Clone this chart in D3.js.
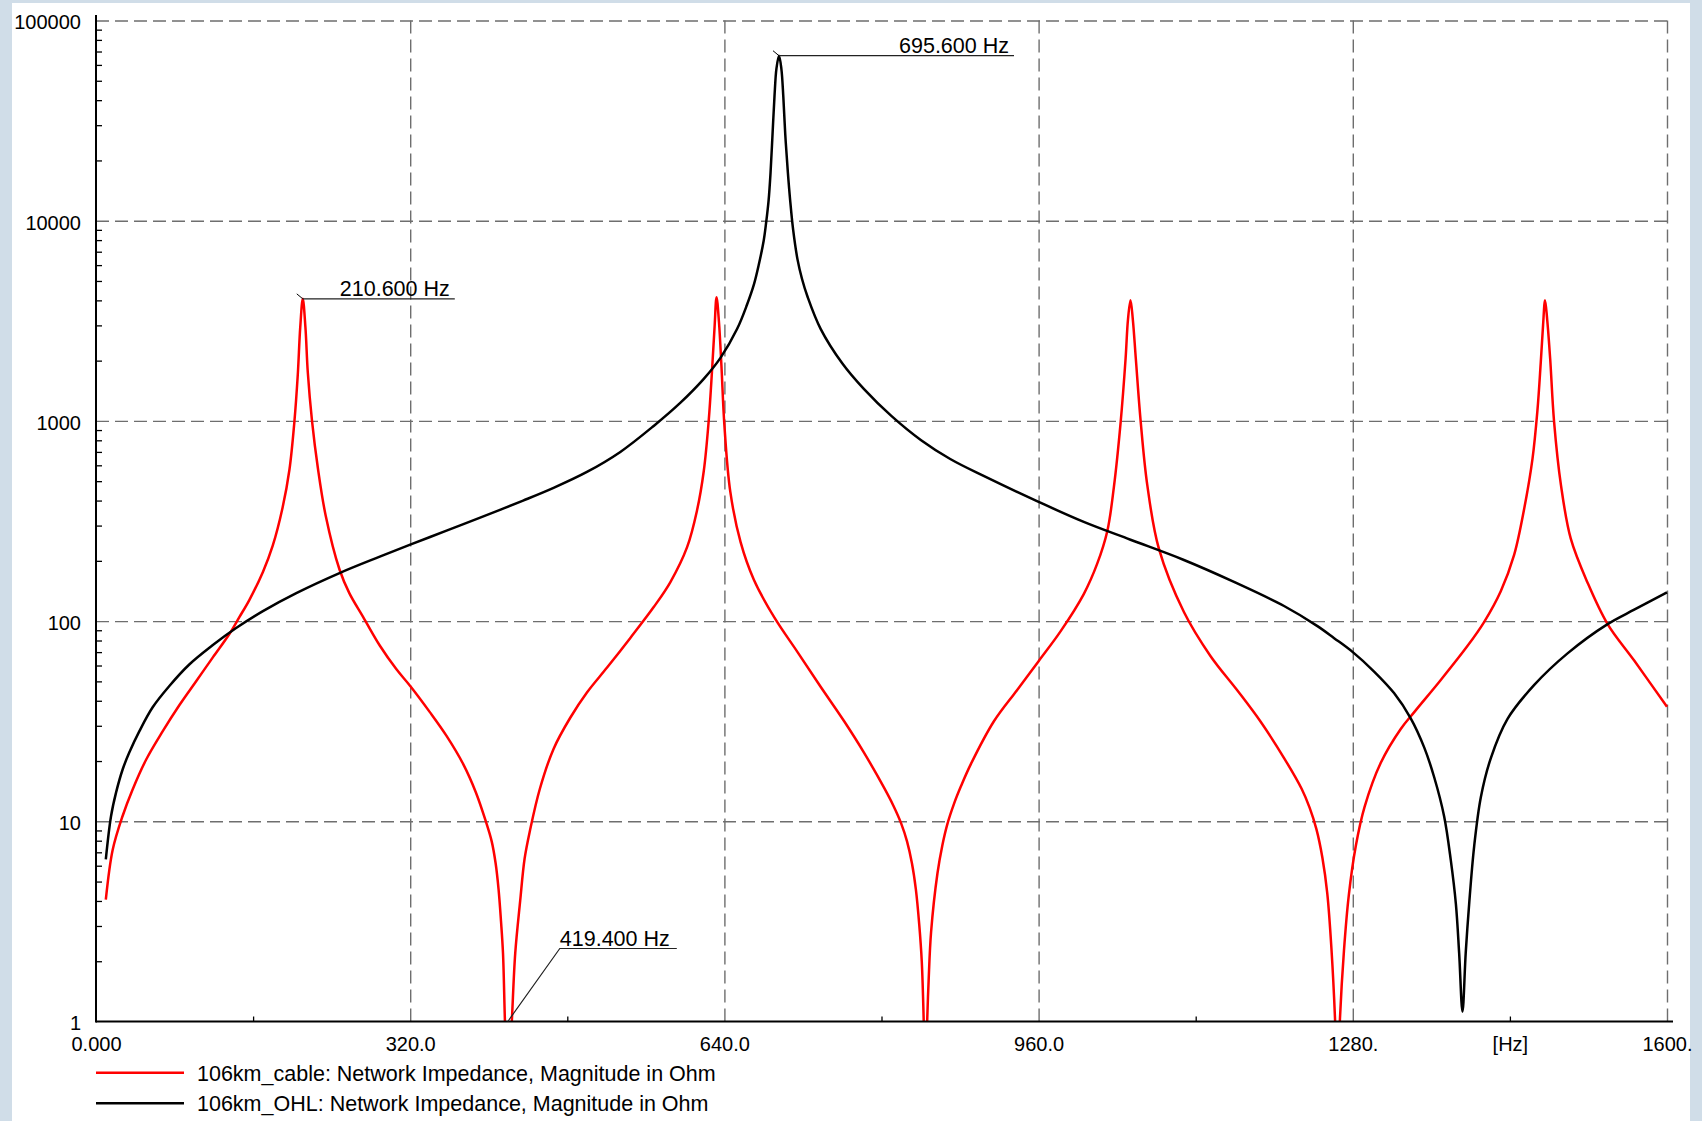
<!DOCTYPE html>
<html>
<head>
<meta charset="utf-8">
<script src="https://cdn.jsdelivr.net/npm/d3@7"></script>
<style>
  body { margin: 0; background: #d0dde8; }
  svg { display: block; font-family: "Liberation Sans", Arial, sans-serif; }
  .grid line { stroke: #6e6e6e; stroke-width: 1.4; stroke-dasharray: 13,6; }
  .tick text { font-size: 20px; fill: #000; }
</style>
</head>
<body>
<svg id="plot"></svg>
<script>
// 106km_cable: frequency [Hz] and impedance magnitude [Ohm]
var cableFreq = [10, 17, 27, 37, 51, 68, 85, 102, 119, 136, 146, 156, 170, 180, 190, 197, 202, 205.5, 208,
    210.6, 213.3, 215.7, 220, 226, 234, 248, 258, 272, 289, 306, 320, 340, 357, 374, 387, 397, 403, 407, 410, 412.5,
    414.5, 416.5, 419.4, 423.5, 427, 432, 436.5, 442, 452, 466, 483, 500, 520.5, 544, 568, 585, 602, 612,
    619, 624, 627.5, 630, 632, 634.5, 637, 640, 646, 656.5, 670, 691, 714.5, 738, 762, 782, 803, 812, 820, 826, 831, 835,
    838.5, 841, 843, 844.5, 846.5, 848, 850.5, 857, 862, 867, 874, 881, 891, 914.5, 938, 960, 982.5, 1006, 1019.6,
    1030, 1036.7, 1043.5, 1048.6, 1051, 1053.6, 1056, 1059, 1064, 1070.7, 1082.5, 1108, 1135, 1162.5, 1186,
    1210, 1228, 1236, 1243, 1249, 1254, 1258.3, 1262, 1264.4, 1266.8, 1271, 1276, 1283, 1292, 1308.5, 1329, 1343,
    1369.6, 1396.7, 1413.7, 1430.7, 1444.3, 1454.5, 1463, 1468, 1471.4, 1473.8, 1475.8, 1478, 1481, 1485,
    1492, 1502, 1519, 1539.5, 1566.6, 1600];
var cableZ = [4.06, 7.2, 10.6, 14.3, 20.3, 28.2, 38.1, 50.1, 65.9, 86.5, 104.7, 127, 176, 238, 368, 570, 984, 1700, 2930,
    4070, 2930, 1750, 1000, 580, 335, 181, 138, 105, 75.5, 57.4, 47.4, 35.1, 26.7, 19.3, 13.9, 10, 7.94, 6.17, 4.57, 3.16,
    2.2, 1.0, 0.4, 1.0, 2.2, 4.0, 6.5, 9.0, 14.5, 23, 32.9, 44, 58.6, 82.2, 117.5, 156.7, 234, 355,
    562, 1000, 1820, 2950, 4150, 3100, 1875, 950, 443, 248, 161, 104, 70, 47, 31.6, 22.1, 14.6, 12.0, 9.77, 7.94, 6.17, 4.57,
    3.02, 2.0, 1.0, 0.4, 1.0, 1.6, 2.8, 5.5, 7.6, 9.66, 12.3, 15.0, 19.3, 31.6, 45.2, 63.1, 89.1, 136.5, 193,
    282, 468, 977, 2050, 3200, 4010, 3200, 2050, 990, 478, 230, 111, 67, 45, 31.5,
    20.7, 14.5, 11.7, 9.12, 6.6, 4.37, 2.29, 1.0, 0.4, 1.0, 2.26, 4.3, 7.5, 11.8, 19.6, 29, 35.3,
    50.8, 75, 98.9, 141, 214, 363, 646, 1122, 1950, 3020, 4010, 3200, 2050, 990,
    478, 258, 156, 96.6, 63.5, 37.3];

// 106km_OHL: frequency [Hz] and impedance magnitude [Ohm]
var ohlFreq = [10, 15.3, 20.4, 27.2, 34, 44.2, 57.7, 74.7, 95, 119, 142.7, 170, 204, 248, 289, 320, 357, 390.6,
    435, 466, 500, 534, 568, 595, 619, 636, 653, 663, 670, 675, 680, 682.5, 685, 687, 689, 691, 693, 695.6,
    698, 700, 702, 704.5, 707, 710, 714.5, 719, 724.7, 738, 760, 782, 810, 840, 870, 904, 960, 1006, 1053.6,
    1108, 1159, 1210, 1244, 1261, 1280, 1301.7, 1322, 1339, 1352.7, 1362.9, 1373, 1379.8, 1385, 1388.3,
    1391.7, 1395, 1398.5, 1403.6, 1410.4, 1420.6, 1437.6, 1464.8, 1498.7, 1539.5, 1566.6, 1600];
var ohlZ = [6.46, 10.6, 13.9, 18.2, 22.1, 28.2, 37.1, 47.4, 60.7, 75.9, 92.3, 112.2, 138, 173.8, 209.9, 241, 283, 328,
    400, 463, 556, 700, 944, 1230, 1622, 2065, 2884, 3802, 4790, 6026, 7940, 9772, 12590, 17380, 26920, 41690, 57540, 66700,
    57540, 41690, 26920, 17780, 12590, 9016, 6390, 5129, 4170, 2884, 1941, 1445, 1059, 803, 645, 531, 394, 313, 255,
    202, 157, 119, 94.4, 82.2, 70, 56, 43.7, 32.7, 23.4, 16.6, 10.6, 6.4, 3.86, 2.2,
    1.12, 2.2, 3.86, 7.5, 13.2, 20.7, 32.5, 48, 69, 96.6, 114, 139];

var yTicks = [1, 10, 100, 1000, 10000, 100000];
var xTicks = [0, 320, 640, 960, 1280, 1440, 1600];
var xTickLabels = ['0.000', '320.0', '640.0', '960.0', '1280.', '[Hz]', '1600.'];
var xGrid = [320, 640, 960, 1280, 1600];
var xMinor = [160, 480, 800, 1120, 1440];
var legendLabels = ['106km_cable: Network Impedance, Magnitude in Ohm',
                    '106km_OHL: Network Impedance, Magnitude in Ohm'];
var seriesColors = ['#ff0000', '#000000'];

var W = 1702, H = 1121;
var x = d3.scaleLinear().domain([0, 1600]).range([96, 1667]);
var y = d3.scaleLog().domain([1, 100000]).range([1021.5, 20.5]);

var svg = d3.select('#plot').attr('width', W).attr('height', H);

svg.append('rect').attr('width', W).attr('height', H).attr('fill', '#d0dde8');
svg.append('rect').attr('x', 12).attr('y', 3).attr('width', 1678).attr('height', H - 3).attr('fill', '#fff');

// minor log ticks 2..9 per decade
var yMinor = [];
for (var d = 1; d < 100000; d *= 10) {
    for (var k = 2; k <= 9; k++) yMinor.push(d * k);
}

// grid
svg.append('g').attr('class', 'grid')
    .attr('transform', 'translate(' + x(0) + ',0)')
    .call(d3.axisLeft(y).tickValues(yTicks.slice(1)).tickSize(-(x(1600) - x(0))).tickFormat(''))
    .call(function(g) { g.select('.domain').remove(); });

svg.append('g').attr('class', 'grid')
    .attr('transform', 'translate(0,' + y(1) + ')')
    .call(d3.axisBottom(x).tickValues(xGrid).tickSize(-(y(1) - y(100000))).tickFormat(''))
    .call(function(g) { g.select('.domain').remove(); });

// minor ticks
svg.append('g')
    .attr('transform', 'translate(' + x(0) + ',0)')
    .call(d3.axisLeft(y).tickValues(yMinor).tickSize(-6).tickFormat(''))
    .call(function(g) {
        g.select('.domain').remove();
        g.selectAll('line').attr('stroke', '#000').attr('stroke-width', 1.3);
    });

svg.append('g')
    .attr('transform', 'translate(0,' + y(1) + ')')
    .call(d3.axisBottom(x).tickValues(xMinor).tickSize(-5).tickFormat(''))
    .call(function(g) {
        g.select('.domain').remove();
        g.selectAll('line').attr('stroke', '#000').attr('stroke-width', 1.3);
    });

// tick labels
svg.append('g')
    .attr('transform', 'translate(' + x(0) + ',0)')
    .call(d3.axisLeft(y).tickValues(yTicks).tickSize(0).tickPadding(15).tickFormat(d3.format('d')))
    .call(function(g) {
        g.select('.domain').remove();
        g.selectAll('text').attr('dy', '0.42em');
    });

svg.append('g')
    .attr('transform', 'translate(0,' + y(1) + ')')
    .call(d3.axisBottom(x).tickValues(xTicks).tickSize(0).tickPadding(15)
        .tickFormat(function(d, i) { return xTickLabels[i]; }))
    .call(function(g) { g.select('.domain').remove(); });

// curves
svg.append('clipPath').attr('id', 'clip')
    .append('rect').attr('x', x(0)).attr('y', 10).attr('width', x(1600) - x(0) + 6).attr('height', y(1) - 10);

var line = d3.line()
    .x(function(d) { return x(d[0]); })
    .y(function(d) { return y(d[1]); })
    .curve(d3.curveCatmullRom.alpha(0.5));

var series = [d3.zip(cableFreq, cableZ), d3.zip(ohlFreq, ohlZ)];

for (var i = 0; i < series.length; i++) {
    svg.append('path')
        .datum(series[i])
        .attr('clip-path', 'url(#clip)')
        .attr('fill', 'none')
        .attr('stroke', seriesColors[i])
        .attr('stroke-width', 2.5)
        .attr('stroke-linejoin', 'round')
        .attr('d', line);
}

// axes lines
svg.append('line').attr('x1', x(0)).attr('x2', x(0)).attr('y1', 15).attr('y2', y(1) + 1)
    .attr('stroke', '#000').attr('stroke-width', 2);
svg.append('line').attr('x1', x(0)).attr('x2', x(1600) + 6).attr('y1', y(1)).attr('y2', y(1))
    .attr('stroke', '#000').attr('stroke-width', 2);

// markers
function valueAt(freqs, vals, f) {
    return vals[freqs.indexOf(f)];
}

var markers = [
    {f: 210.6, v: valueAt(cableFreq, cableZ, 210.6), label: '210.600 Hz', elbow: [0, 0], end: 152, peak: true},
    {f: 695.6, v: valueAt(ohlFreq, ohlZ, 695.6), label: '695.600 Hz', elbow: [0, 0], end: 235, peak: true},
    {f: 419.4, v: valueAt(cableFreq, cableZ, 419.4), label: '419.400 Hz', elbow: [52, -73], end: 169, peak: false}
];

markers.forEach(function(m) {
    var px = x(m.f), py = y(Math.max(m.v, 1));
    var g = svg.append('g');
    var ex = px + m.elbow[0], ey = py + m.elbow[1];
    if (m.peak) {
        g.append('line').attr('x1', px - 6).attr('y1', py - 5).attr('x2', px).attr('y2', py)
            .attr('stroke', '#000').attr('stroke-width', 1);
    }
    g.append('polyline')
        .attr('points', [[px, py], [ex, ey], [px + m.end, ey]].map(function(p) { return p.join(','); }).join(' '))
        .attr('fill', 'none').attr('stroke', '#222').attr('stroke-width', 1.2);
    var t = g.append('text')
        .attr('y', ey - 3)
        .attr('font-size', 21.5)
        .text(m.label);
    if (m.peak) {
        t.attr('x', px + m.end - 5).attr('text-anchor', 'end');
    } else {
        t.attr('x', ex).attr('text-anchor', 'start');
    }
});

// legend
legendLabels.forEach(function(txt, i) {
    var ly = 1072.7 + i * 30.6;
    svg.append('line').attr('x1', 96).attr('x2', 184).attr('y1', ly).attr('y2', ly)
        .attr('stroke', seriesColors[i]).attr('stroke-width', 2.5);
    svg.append('text').attr('x', 197).attr('y', ly + 7.8).attr('font-size', 21.5).text(txt);
});
</script>
</body>
</html>
